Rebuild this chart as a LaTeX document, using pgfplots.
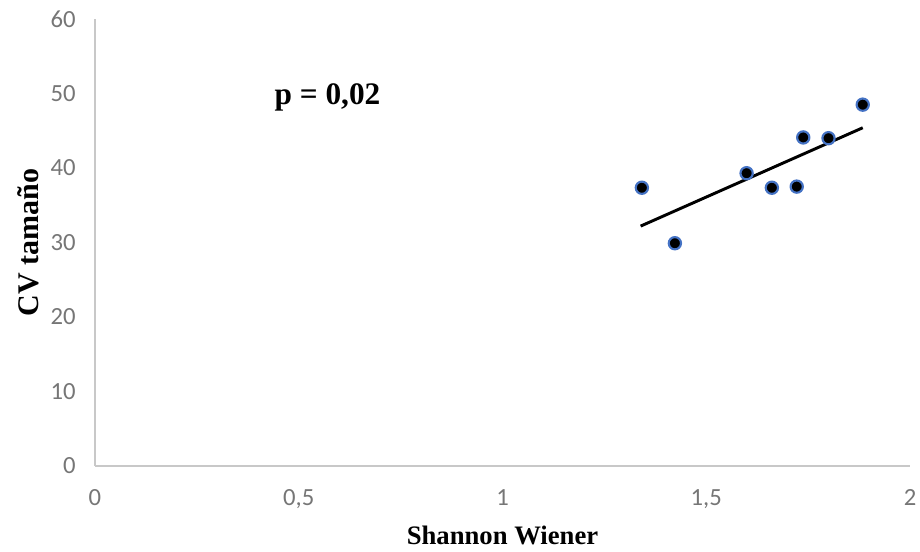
\documentclass[border=0pt]{standalone}
\usepackage{fontspec}
\setmainfont{Liberation Serif}
\newfontfamily\tickfont{Carlito}
\usepackage{pgfplots}
\pgfplotsset{compat=1.18}
\definecolor{axgray}{HTML}{C8C8C8}
\definecolor{tickgray}{HTML}{767676}
\definecolor{mkblue}{HTML}{4472C4}
\begin{document}
\begin{tikzpicture}
\path[use as bounding box] (0,0) rectangle (690pt,414pt);
\begin{axis}[
  at={(71.25pt,64.5pt)}, anchor=south west,
  scale only axis, width=611.25pt, height=335.25pt,
  xmin=0, xmax=2, ymin=0, ymax=60,
  xtick={0,0.5,1,1.5,2}, ytick={0,10,...,60},
  xticklabels={0,{0,5},1,{1,5},2},
  axis x line*=bottom, axis y line*=left,
  axis line style={axgray, line width=1.4pt, -},
  major tick length=0pt,
  tick label style={font=\tickfont\fontsize{18.5}{20}\selectfont, text=tickgray},
  /pgf/number format/assume math mode=true,
  xticklabel style={yshift=-14pt},
  yticklabel style={xshift=-11pt},
  xlabel={Shannon Wiener}, ylabel={CV tamaño},
  xlabel style={font=\bfseries\fontsize{20}{22}\selectfont, yshift=-6.5pt},
  ylabel style={font=\bfseries\fontsize{22.5}{24}\selectfont, yshift=2pt},
  clip=false,
]
\addplot[only marks, mark=*, mark size=4.6pt, mark options={fill=black, draw=mkblue, line width=1.6pt}] coordinates {
  (1.342,37.35) (1.423,29.9) (1.599,39.3) (1.661,37.35)
  (1.722,37.5) (1.738,44.1) (1.800,44.0) (1.884,48.5)
};
\addplot[black, line width=2.2pt] coordinates {(1.339,32.2) (1.884,45.4)};
\node[anchor=west, font=\bfseries\fontsize{23.5}{26}\selectfont, inner sep=0pt] at (axis cs:0.44,49.5) {p = 0,02};
\end{axis}
\end{tikzpicture}
\end{document}
